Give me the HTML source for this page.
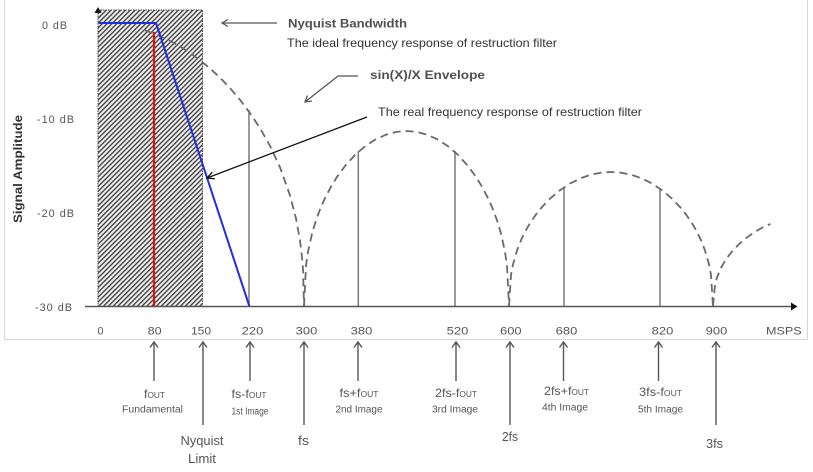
<!DOCTYPE html>
<html>
<head>
<meta charset="utf-8">
<style>
html,body{margin:0;padding:0;background:#fff;}
svg{display:block;}
text{font-family:"Liberation Sans",Arial,sans-serif;}
</style>
</head>
<body>
<svg width="813" height="472" viewBox="0 0 813 472" xmlns="http://www.w3.org/2000/svg">
<defs>
<pattern id="hatch" width="3.4" height="3.4" patternUnits="userSpaceOnUse" patternTransform="rotate(45)">
<rect width="3.4" height="3.4" fill="#f0f0f0"/>
<line x1="0.7" y1="0" x2="0.7" y2="3.4" stroke="#383838" stroke-width="1.3"/>
</pattern>
</defs>
<rect width="813" height="472" fill="#fff"/>

<!-- frame -->
<line x1="4.5" y1="0" x2="4.5" y2="339.5" stroke="#d6d6d6" stroke-width="1"/>
<line x1="807.5" y1="0" x2="807.5" y2="339.5" stroke="#d6d6d6" stroke-width="1"/>
<line x1="4.5" y1="339.5" x2="807.5" y2="339.5" stroke="#d6d6d6" stroke-width="1"/>

<!-- hatched nyquist band -->
<rect x="98" y="10" width="104.5" height="296.5" fill="url(#hatch)" stroke="#444" stroke-width="1" stroke-dasharray="1.5 1"/>

<!-- y axis arrow head -->
<polygon points="98,7 94.5,13 101.5,13" fill="#111"/>

<!-- spectral lines -->
<g stroke="#7a7a7a" stroke-width="1.5">
<line x1="249" y1="110" x2="249" y2="306"/>
<line x1="358.3" y1="151" x2="358.3" y2="306"/>
<line x1="455" y1="151" x2="455" y2="306"/>
<line x1="564" y1="188" x2="564" y2="306"/>
<line x1="660" y1="188" x2="660" y2="306"/>
</g>

<!-- sinc envelope -->
<polyline fill="none" stroke="#6a6a6a" stroke-width="1.8" stroke-dasharray="8 5" stroke-linejoin="round"
points="145,30.5 150,32.2 160,36.2 170,40.9 180,46.5 190,52.9 200,60.2 210,68.4 220,77.6 230,88.1 240,99.8 250,113.2 260,128.1 270,145.9 280,167.3 290,195.4 296,218.5 300,240.4 302,257 303,269.6 304,306"/>
<polyline fill="none" stroke="#6a6a6a" stroke-width="1.8" stroke-dasharray="8 5" stroke-linejoin="round"
points="304,306 306.05,265.1 308.1,251.3 312.2,232.8 316.3,219.4 320.4,208.5 324.5,199.1 330.65,187.3 336.8,177.2 345,166 355.25,154.7 365.5,145.9 375.75,139.3 386,134.7 396.25,131.9 406.5,131 416.75,131.9 427,134.7 437.25,139.3 447.5,145.9 457.75,154.7 468,166 476.2,177.2 482.35,187.3 488.5,199.1 492.6,208.5 496.7,219.4 500.8,232.8 504.9,251.3 506.95,265.1 509,306"/>
<polyline fill="none" stroke="#6a6a6a" stroke-width="1.8" stroke-dasharray="8 5" stroke-linejoin="round"
points="509,306 511.04,274.7 513.08,264.1 517.16,250 521.24,239.7 525.32,231.3 529.4,224.2 535.52,215.1 541.64,207.4 549.8,198.8 560,190.2 570.2,183.4 580.4,178.3 590.6,174.8 600.8,172.7 611,172 621.2,172.7 631.4,174.8 641.6,178.3 651.8,183.4 662,190.2 672.2,198.8 680.36,207.4 686.48,215.1 692.6,224.2 696.68,231.3 700.76,239.7 704.84,250 708.92,264.1 710.96,274.7 713,306"/>
<polyline fill="none" stroke="#6a6a6a" stroke-width="1.8" stroke-dasharray="8 5" stroke-linejoin="round"
points="713,306 715.05,284.5 717.1,277.2 721.2,267.5 725.3,260.5 729.4,254.7 733.5,249.8 739.65,243.6 745.8,238.3 754,232.4 764.25,226.5 770.4,224"/>

<!-- x axis -->
<line x1="85" y1="306.5" x2="793" y2="306.5" stroke="#555" stroke-width="1.5"/>
<polygon points="797.5,306.5 791,302.5 791,310.5" fill="#111"/>

<!-- filter responses -->
<line x1="154" y1="32" x2="154" y2="306" stroke="#e01010" stroke-width="2.2"/>
<polyline points="99,23 156,23 249.3,306" fill="none" stroke="#1f2fe0" stroke-width="2" stroke-linejoin="round"/>

<!-- y tick labels -->
<g font-size="11" fill="#555" letter-spacing="1">
<text x="42" y="29" textLength="26" lengthAdjust="spacingAndGlyphs">0 dB</text>
<text x="37" y="123" textLength="38" lengthAdjust="spacingAndGlyphs">-10 dB</text>
<text x="37" y="217" textLength="38" lengthAdjust="spacingAndGlyphs">-20 dB</text>
<text x="35" y="311" textLength="38" lengthAdjust="spacingAndGlyphs">-30 dB</text>
</g>
<text transform="translate(22,169) rotate(-90)" text-anchor="middle" font-size="12" font-weight="bold" fill="#333" textLength="108" lengthAdjust="spacingAndGlyphs">Signal Amplitude</text>

<!-- x tick labels -->
<g font-size="11" fill="#555">
<text x="97.5" y="334.7" textLength="6" lengthAdjust="spacingAndGlyphs">0</text>
<text x="147.7" y="334.7" textLength="14" lengthAdjust="spacingAndGlyphs">80</text>
<text x="191" y="334.7" textLength="20" lengthAdjust="spacingAndGlyphs">150</text>
<text x="241.7" y="334.7" textLength="21.6" lengthAdjust="spacingAndGlyphs">220</text>
<text x="295.7" y="334.7" textLength="21.6" lengthAdjust="spacingAndGlyphs">300</text>
<text x="350.7" y="334.7" textLength="21.6" lengthAdjust="spacingAndGlyphs">380</text>
<text x="446.7" y="334.7" textLength="21.6" lengthAdjust="spacingAndGlyphs">520</text>
<text x="500" y="334.7" textLength="21.6" lengthAdjust="spacingAndGlyphs">600</text>
<text x="555.7" y="334.7" textLength="21.6" lengthAdjust="spacingAndGlyphs">680</text>
<text x="651.7" y="334.7" textLength="21.6" lengthAdjust="spacingAndGlyphs">820</text>
<text x="705.7" y="334.7" textLength="21.6" lengthAdjust="spacingAndGlyphs">900</text>
<text x="766" y="334.7" textLength="35.7" lengthAdjust="spacingAndGlyphs">MSPS</text>
</g>

<!-- top annotations -->
<g stroke="#555" stroke-width="1.3" fill="none">
<line x1="277" y1="23" x2="222" y2="23"/>
<polyline points="228,19.5 222,23 228,26.5"/>
<polyline points="358,76 338,76 305,102"/>
<polyline points="311.9,101 305,102 307.5,95.5"/>
</g>
<g stroke="#111" stroke-width="1.3" fill="none">
<line x1="367" y1="117" x2="207" y2="178"/>
<polyline points="214.8,178.8 207,178 212.3,172.2"/>
</g>
<text x="288" y="27.5" font-size="12" font-weight="bold" fill="#505050" textLength="119" lengthAdjust="spacingAndGlyphs">Nyquist Bandwidth</text>
<text x="287" y="47" font-size="12" fill="#333" textLength="270" lengthAdjust="spacingAndGlyphs">The ideal frequency response of restruction filter</text>
<text x="370" y="79" font-size="12" font-weight="bold" fill="#505050" textLength="115" lengthAdjust="spacingAndGlyphs">sin(X)/X Envelope</text>
<text x="378" y="116" font-size="12" fill="#333" textLength="264" lengthAdjust="spacingAndGlyphs">The real frequency response of restruction filter</text>

<!-- bottom arrows -->
<g stroke="#555" stroke-width="1.4" fill="none">
<line x1="154" y1="342" x2="154" y2="381"/><polyline points="150,347.5 154,342 158,347.5"/>
<line x1="203" y1="342" x2="203" y2="425"/><polyline points="199,347.5 203,342 207,347.5"/>
<line x1="250" y1="342" x2="250" y2="381"/><polyline points="246,347.5 250,342 254,347.5"/>
<line x1="304" y1="342" x2="304" y2="425"/><polyline points="300,347.5 304,342 308,347.5"/>
<line x1="358" y1="342" x2="358" y2="381"/><polyline points="354,347.5 358,342 362,347.5"/>
<line x1="456" y1="342" x2="456" y2="381"/><polyline points="452,347.5 456,342 460,347.5"/>
<line x1="510" y1="342" x2="510" y2="425"/><polyline points="506,347.5 510,342 514,347.5"/>
<line x1="563.5" y1="342" x2="563.5" y2="381"/><polyline points="559.5,347.5 563.5,342 567.5,347.5"/>
<line x1="658.5" y1="342" x2="658.5" y2="381"/><polyline points="654.5,347.5 658.5,342 662.5,347.5"/>
<line x1="716" y1="342" x2="716" y2="425"/><polyline points="712,347.5 716,342 720,347.5"/>
</g>

<!-- bottom labels -->
<g fill="#555" text-anchor="start">
<text x="144" y="398" font-size="12" textLength="21" lengthAdjust="spacingAndGlyphs">f<tspan font-size="8">OUT</tspan></text>
<text x="122" y="412.5" font-size="10" textLength="61" lengthAdjust="spacingAndGlyphs">Fundamental</text>

<text x="231.5" y="398" font-size="12" textLength="35" lengthAdjust="spacingAndGlyphs">fs-f<tspan font-size="8">OUT</tspan></text>
<text x="231.5" y="414.5" font-size="10" textLength="37" lengthAdjust="spacingAndGlyphs">1st Image</text>

<text x="180.5" y="445" font-size="13" textLength="43" lengthAdjust="spacingAndGlyphs">Nyquist</text>
<text x="188" y="463" font-size="13" textLength="28" lengthAdjust="spacingAndGlyphs">Limit</text>

<text x="298" y="445" font-size="13" textLength="11" lengthAdjust="spacingAndGlyphs">fs</text>

<text x="339.5" y="397" font-size="12" textLength="39" lengthAdjust="spacingAndGlyphs">fs+f<tspan font-size="8">OUT</tspan></text>
<text x="335.5" y="412.5" font-size="10" textLength="47" lengthAdjust="spacingAndGlyphs">2nd Image</text>

<text x="435" y="397" font-size="12" textLength="42" lengthAdjust="spacingAndGlyphs">2fs-f<tspan font-size="8">OUT</tspan></text>
<text x="432" y="412.5" font-size="10" textLength="46" lengthAdjust="spacingAndGlyphs">3rd Image</text>

<text x="502" y="441" font-size="13" textLength="16" lengthAdjust="spacingAndGlyphs">2fs</text>

<text x="544" y="395" font-size="12" textLength="45" lengthAdjust="spacingAndGlyphs">2fs+f<tspan font-size="8">OUT</tspan></text>
<text x="542" y="410.5" font-size="10" textLength="46" lengthAdjust="spacingAndGlyphs">4th Image</text>

<text x="639" y="396" font-size="12" textLength="43" lengthAdjust="spacingAndGlyphs">3fs-f<tspan font-size="8">OUT</tspan></text>
<text x="638" y="412.5" font-size="10" textLength="45" lengthAdjust="spacingAndGlyphs">5th Image</text>

<text x="706" y="448" font-size="13" textLength="17" lengthAdjust="spacingAndGlyphs">3fs</text>
</g>
</svg>
</body>
</html>
